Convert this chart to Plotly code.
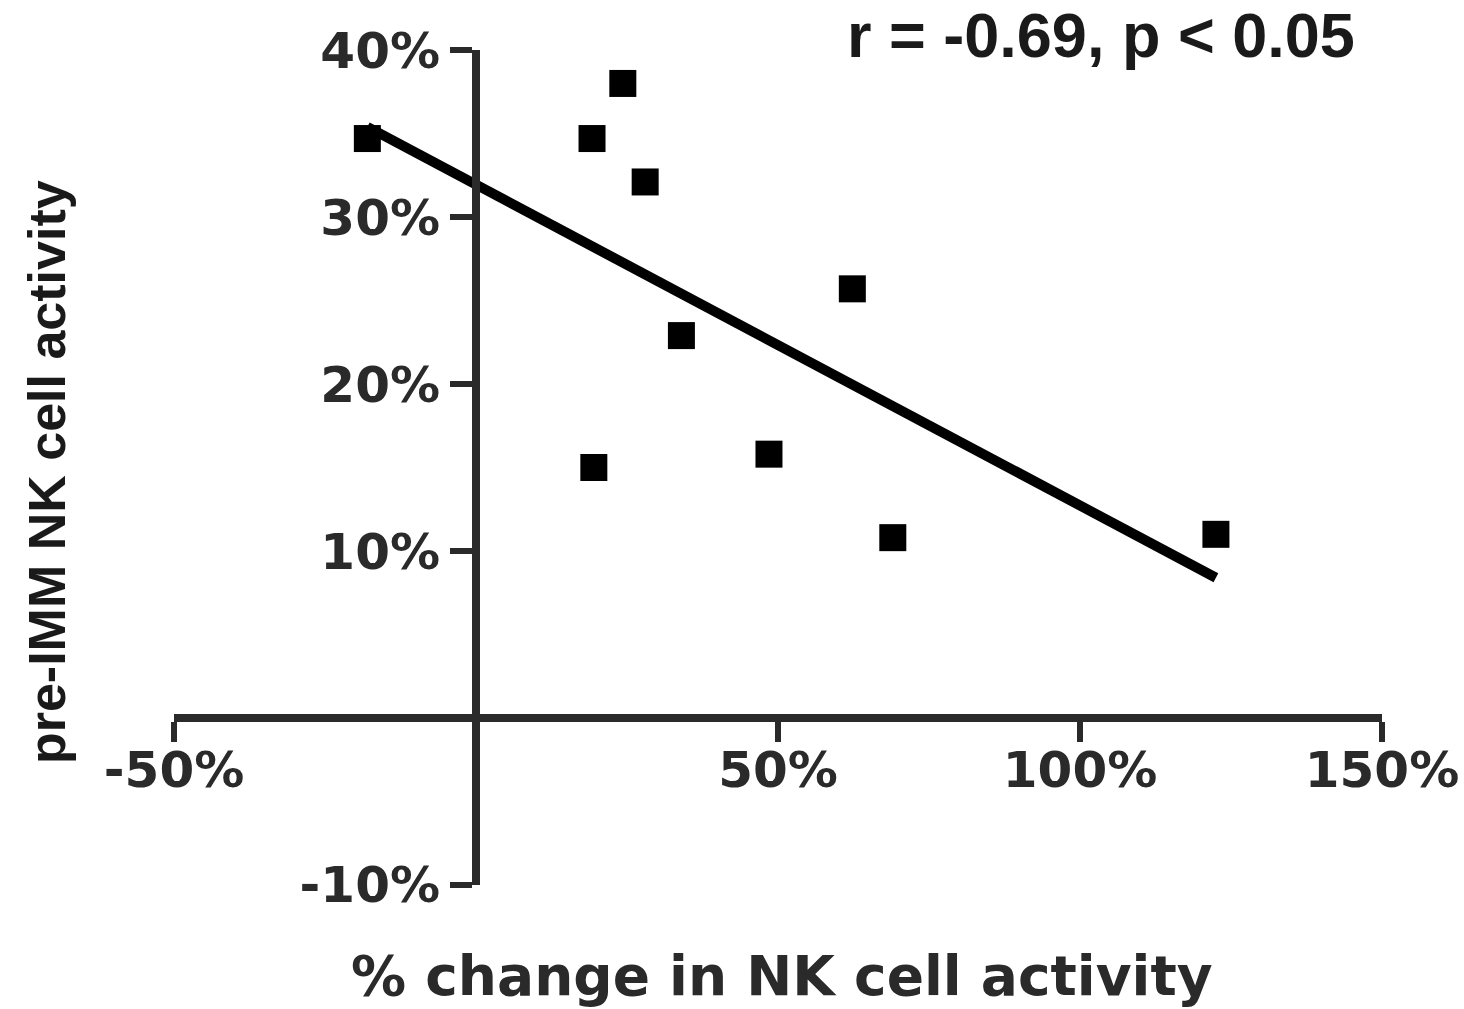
import plotly.graph_objects as go

# Data (percent units)
change_nk = [-18.0, 24.3, 19.2, 28.0, 34.0, 62.3, 19.5, 48.5, 69.0, 122.5]
pre_imm_nk = [34.7, 38.0, 34.7, 32.1, 22.9, 25.7, 15.0, 15.8, 10.8, 11.0]

# Regression line endpoints
fit_x = [-18.0, 122.5]
fit_y = [35.4, 8.4]

x_tickvals = [-50, 50, 100, 150]
x_ticktext = ["-50%", "50%", "100%", "150%"]
y_tickvals = [-10, 10, 20, 30, 40]
y_ticktext = ["-10%", "10%", "20%", "30%", "40%"]

x_range = [-50, 150]
y_range = [-10, 40]

AXC = "#2a2a2a"

fig = go.Figure()
fig.add_trace(go.Scatter(
    x=fit_x, y=fit_y, mode="lines",
    line=dict(color="black", width=10),
    hoverinfo="skip", showlegend=False,
))
fig.add_trace(go.Scatter(
    x=change_nk, y=pre_imm_nk, mode="markers",
    marker=dict(symbol="square", size=27, color="black", line=dict(width=0)),
    showlegend=False,
))

xdom = [0.1189, 0.944]
ydom = [0.1229, 0.9504]
x_pos = ydom[0] + (0 - y_range[0]) / (y_range[1] - y_range[0]) * (ydom[1] - ydom[0])
y_pos = xdom[0] + (0 - x_range[0]) / (x_range[1] - x_range[0]) * (xdom[1] - xdom[0])

tickfont = dict(family="DejaVu Sans", size=50, weight="bold", color=AXC)

fig.update_layout(
    width=1464, height=1009,
    margin=dict(l=0, r=0, t=0, b=0),
    paper_bgcolor="white", plot_bgcolor="white",
    showlegend=False,
    xaxis=dict(
        domain=xdom, range=x_range, anchor="free", position=x_pos,
        showline=True, linewidth=8, linecolor=AXC,
        ticks="outside", ticklen=20, tickwidth=6, tickcolor=AXC,
        tickvals=x_tickvals, ticktext=x_ticktext, tickfont=tickfont,
        ticklabelstandoff=-15,
        showgrid=False, zeroline=False, automargin=False,
    ),
    yaxis=dict(
        domain=ydom, range=y_range, anchor="free", position=y_pos,
        showline=True, linewidth=8, linecolor=AXC,
        ticks="outside", ticklen=22, tickwidth=6, tickcolor=AXC,
        tickvals=y_tickvals, ticktext=y_ticktext, tickfont=tickfont,
        showgrid=False, zeroline=False, automargin=False,
    ),
    annotations=[
        dict(text="% change in NK cell activity", xref="paper", yref="paper",
             x=0.534, y=0.033, xanchor="center", yanchor="middle", showarrow=False,
             font=dict(family="DejaVu Sans", size=55, weight="bold", color=AXC)),
        dict(text="pre-IMM NK cell activity", xref="paper", yref="paper",
             x=0.032, y=0.532, xanchor="center", yanchor="middle", showarrow=False,
             textangle=-90,
             font=dict(family="Liberation Sans", size=52, weight="bold", color="#1a1a1a")),
        dict(text="r = -0.69, p < 0.05", xref="paper", yref="paper",
             x=0.752, y=0.9654, xanchor="center", yanchor="middle", showarrow=False,
             font=dict(family="Liberation Sans", size=63, weight="bold", color="#1a1a1a")),
    ],
)

fig.write_html(
    "out.html",
    config={"displayModeBar": False},
    post_script="document.body.style.margin='0';document.body.style.overflow='hidden';",
)
